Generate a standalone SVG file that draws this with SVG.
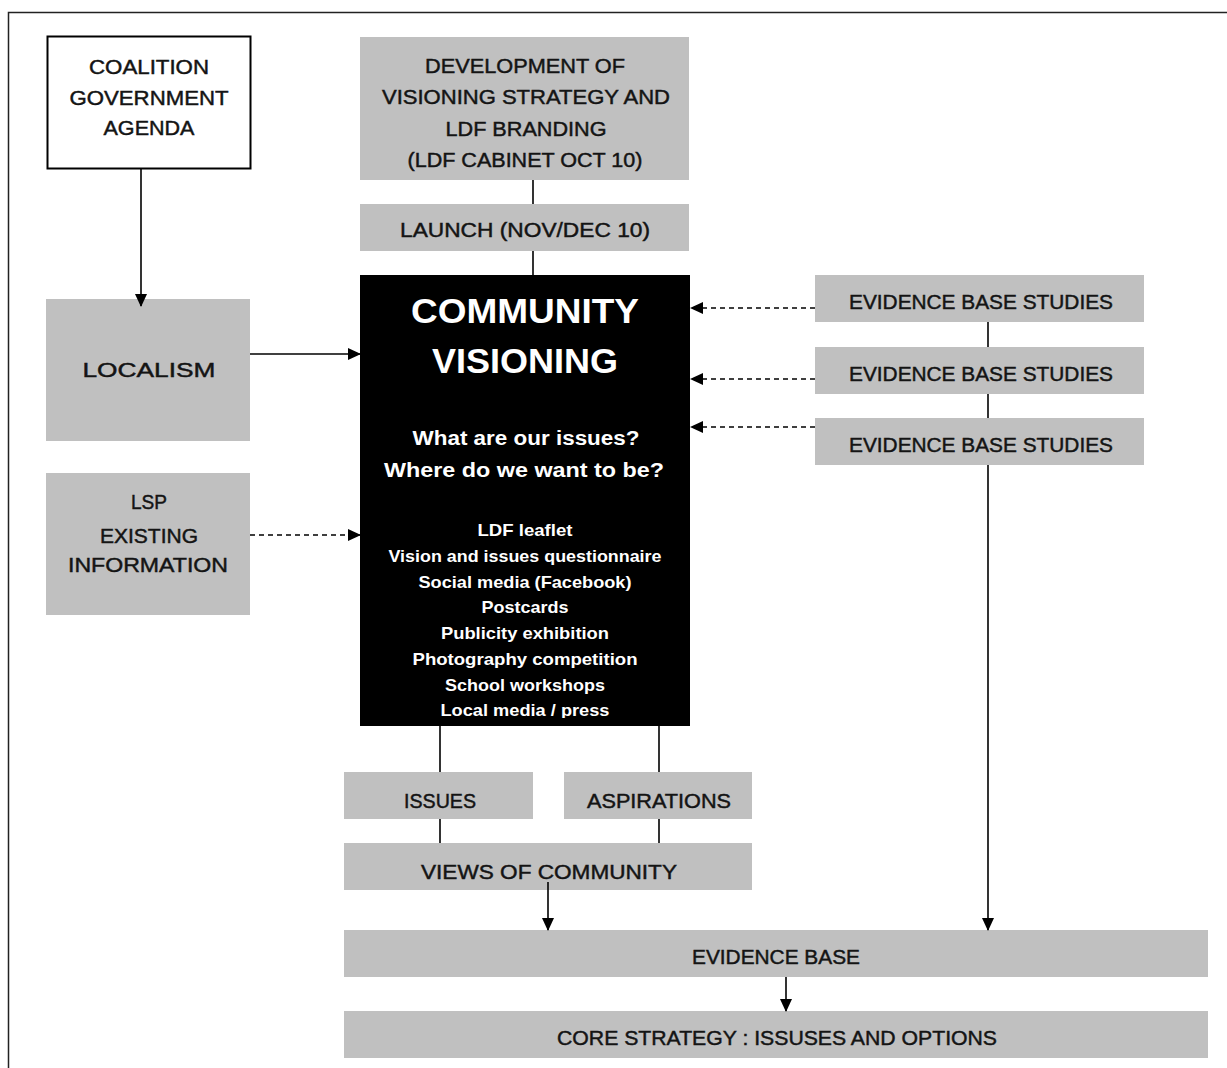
<svg xmlns="http://www.w3.org/2000/svg" width="1227" height="1068" viewBox="0 0 1227 1068">
<defs>
<marker id="ah" markerWidth="13" markerHeight="12" refX="12" refY="6" orient="auto" markerUnits="userSpaceOnUse">
<path d="M0,0 L13,6 L0,12 Z" fill="#000"/>
</marker>
<clipPath id="cvclip"><rect x="360" y="275" width="330" height="443"/></clipPath>
</defs>
<style>
.g{fill:#c0c0c0;}
.t{font-family:"Liberation Sans",Arial,sans-serif;font-size:20px;fill:#141414;stroke:#141414;stroke-width:0.45;text-anchor:middle;}
.w{font-family:"Liberation Sans",Arial,sans-serif;font-weight:bold;fill:#fff;text-anchor:middle;}
.ln{stroke:#000;stroke-width:1.6;fill:none;}
.dl{stroke:#000;stroke-width:1.4;fill:none;stroke-dasharray:5,4;}
</style>
<rect width="1227" height="1068" fill="#fff"/>
<path d="M8.5,1068 L8.5,12.5 L1227,12.5" fill="none" stroke="#222" stroke-width="1.5"/>

<g id="coalition">
<rect x="47.5" y="36.5" width="203" height="132" fill="#fff" stroke="#000" stroke-width="2"/>
<text class="t" x="149" y="74" textLength="120" lengthAdjust="spacingAndGlyphs">COALITION</text>
<text class="t" x="149" y="105" textLength="159" lengthAdjust="spacingAndGlyphs">GOVERNMENT</text>
<text class="t" x="149" y="135" textLength="91" lengthAdjust="spacingAndGlyphs">AGENDA</text>
</g>

<g id="development">
<rect class="g" x="360" y="37" width="329" height="143"/>
<text class="t" x="525" y="73" textLength="200" lengthAdjust="spacingAndGlyphs">DEVELOPMENT OF</text>
<text class="t" x="526" y="104" textLength="288" lengthAdjust="spacingAndGlyphs">VISIONING STRATEGY AND</text>
<text class="t" x="526" y="136" textLength="161" lengthAdjust="spacingAndGlyphs">LDF BRANDING</text>
<text class="t" x="525" y="167" textLength="235" lengthAdjust="spacingAndGlyphs">(LDF CABINET OCT 10)</text>
</g>

<g id="launch">
<rect class="g" x="360" y="204" width="329" height="47"/>
<text class="t" x="525" y="237" textLength="250" lengthAdjust="spacingAndGlyphs">LAUNCH (NOV/DEC 10)</text>
</g>

<g id="community-visioning">
<rect x="360" y="275" width="330" height="451" fill="#000"/>
<text class="w" x="525" y="323" font-size="35" textLength="228" lengthAdjust="spacingAndGlyphs">COMMUNITY</text>
<text class="w" x="525" y="373" font-size="35" textLength="186" lengthAdjust="spacingAndGlyphs">VISIONING</text>
<text class="w" x="526" y="445" font-size="20" textLength="227" lengthAdjust="spacingAndGlyphs">What are our issues?</text>
<text class="w" x="524" y="477" font-size="20" textLength="280" lengthAdjust="spacingAndGlyphs">Where do we want to be?</text>
<g clip-path="url(#cvclip)">
<text class="w" x="525" y="536" font-size="17" textLength="95" lengthAdjust="spacingAndGlyphs">LDF leaflet</text>
<text class="w" x="525" y="562" font-size="17" textLength="273" lengthAdjust="spacingAndGlyphs">Vision and issues questionnaire</text>
<text class="w" x="525" y="588" font-size="17" textLength="213" lengthAdjust="spacingAndGlyphs">Social media (Facebook)</text>
<text class="w" x="525" y="613" font-size="17" textLength="87" lengthAdjust="spacingAndGlyphs">Postcards</text>
<text class="w" x="525" y="639" font-size="17" textLength="168" lengthAdjust="spacingAndGlyphs">Publicity exhibition</text>
<text class="w" x="525" y="665" font-size="17" textLength="225" lengthAdjust="spacingAndGlyphs">Photography competition</text>
<text class="w" x="525" y="691" font-size="17" textLength="160" lengthAdjust="spacingAndGlyphs">School workshops</text>
<text class="w" x="525" y="716" font-size="17" textLength="169" lengthAdjust="spacingAndGlyphs">Local media / press</text>
</g>
</g>

<g id="localism">
<rect class="g" x="46" y="299" width="204" height="142"/>
<text class="t" x="149" y="377" font-size="26" stroke-width="0.9" textLength="133" lengthAdjust="spacingAndGlyphs">LOCALISM</text>
</g>

<g id="lsp">
<rect class="g" x="46" y="473" width="204" height="142"/>
<text class="t" x="149" y="509" textLength="36" lengthAdjust="spacingAndGlyphs">LSP</text>
<text class="t" x="149" y="543" textLength="98" lengthAdjust="spacingAndGlyphs">EXISTING</text>
<text class="t" x="148" y="572" textLength="160" lengthAdjust="spacingAndGlyphs">INFORMATION</text>
</g>

<g id="ebs1">
<rect class="g" x="815" y="275" width="329" height="47"/>
<text class="t" x="981" y="309" textLength="264" lengthAdjust="spacingAndGlyphs">EVIDENCE BASE STUDIES</text>
</g>
<g id="ebs2">
<rect class="g" x="815" y="347" width="329" height="47"/>
<text class="t" x="981" y="381" textLength="264" lengthAdjust="spacingAndGlyphs">EVIDENCE BASE STUDIES</text>
</g>
<g id="ebs3">
<rect class="g" x="815" y="418" width="329" height="47"/>
<text class="t" x="981" y="452" textLength="264" lengthAdjust="spacingAndGlyphs">EVIDENCE BASE STUDIES</text>
</g>

<g id="issues">
<rect class="g" x="344" y="772" width="189" height="47"/>
<text class="t" x="440" y="808" textLength="72" lengthAdjust="spacingAndGlyphs">ISSUES</text>
</g>
<g id="aspirations">
<rect class="g" x="564" y="772" width="188" height="47"/>
<text class="t" x="659" y="808" textLength="144" lengthAdjust="spacingAndGlyphs">ASPIRATIONS</text>
</g>
<g id="views">
<rect class="g" x="344" y="843" width="408" height="47"/>
<text class="t" x="549" y="879" textLength="256" lengthAdjust="spacingAndGlyphs">VIEWS OF COMMUNITY</text>
</g>
<g id="evidence-base">
<rect class="g" x="344" y="930" width="864" height="47"/>
<text class="t" x="776" y="964" textLength="168" lengthAdjust="spacingAndGlyphs">EVIDENCE BASE</text>
</g>
<g id="core-strategy">
<rect class="g" x="344" y="1011" width="864" height="47"/>
<text class="t" x="777" y="1045" textLength="440" lengthAdjust="spacingAndGlyphs">CORE STRATEGY : ISSUSES AND OPTIONS</text>
</g>

<g id="connectors">
<line class="ln" x1="141" y1="169" x2="141" y2="306" marker-end="url(#ah)"/>
<line class="ln" x1="533" y1="180" x2="533" y2="204"/>
<line class="ln" x1="533" y1="251" x2="533" y2="275"/>
<line class="ln" x1="250" y1="354" x2="360" y2="354" marker-end="url(#ah)"/>
<line class="dl" x1="250" y1="535" x2="360" y2="535" marker-end="url(#ah)"/>
<line class="dl" x1="815" y1="308" x2="691" y2="308" marker-end="url(#ah)"/>
<line class="dl" x1="815" y1="379" x2="691" y2="379" marker-end="url(#ah)"/>
<line class="dl" x1="815" y1="427" x2="691" y2="427" marker-end="url(#ah)"/>
<line class="ln" x1="988" y1="322" x2="988" y2="347"/>
<line class="ln" x1="988" y1="394" x2="988" y2="418"/>
<line class="ln" x1="988" y1="465" x2="988" y2="930" marker-end="url(#ah)"/>
<line class="ln" x1="440" y1="726" x2="440" y2="772"/>
<line class="ln" x1="659" y1="726" x2="659" y2="772"/>
<line class="ln" x1="440" y1="819" x2="440" y2="843"/>
<line class="ln" x1="659" y1="819" x2="659" y2="843"/>
<line class="ln" x1="548" y1="882" x2="548" y2="930" marker-end="url(#ah)"/>
<line class="ln" x1="786" y1="977" x2="786" y2="1011" marker-end="url(#ah)"/>
</g>
</svg>
